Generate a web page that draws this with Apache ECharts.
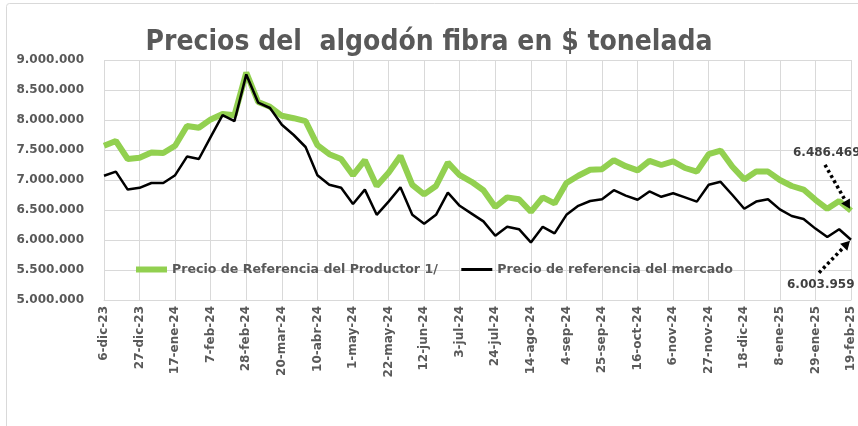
<!DOCTYPE html>
<html>
<head>
<meta charset="utf-8">
<script src="https://cdn.jsdelivr.net/npm/echarts@6/dist/echarts.min.js"></script>
<style>
html,body{margin:0;padding:0;background:#fff;}
#c{width:858px;height:426px;}
</style>
</head>
<body>
<div id="c"></div>
<script>
const categories = [
 '6-dic-23','13-dic-23','20-dic-23','27-dic-23','3-ene-24','10-ene-24','17-ene-24','24-ene-24','31-ene-24','7-feb-24',
 '14-feb-24','21-feb-24','28-feb-24','6-mar-24','13-mar-24','20-mar-24','27-mar-24','3-abr-24','10-abr-24','17-abr-24',
 '24-abr-24','1-may-24','8-may-24','15-may-24','22-may-24','29-may-24','5-jun-24','12-jun-24','19-jun-24','26-jun-24',
 '3-jul-24','10-jul-24','17-jul-24','24-jul-24','31-jul-24','7-ago-24','14-ago-24','21-ago-24','28-ago-24','4-sep-24',
 '11-sep-24','18-sep-24','25-sep-24','2-oct-24','9-oct-24','16-oct-24','23-oct-24','30-oct-24','6-nov-24','13-nov-24',
 '20-nov-24','27-nov-24','4-dic-24','11-dic-24','18-dic-24','25-dic-24','1-ene-25','8-ene-25','15-ene-25','22-ene-25',
 '29-ene-25','5-feb-25','12-feb-25','19-feb-25'
];
const productorValues = [
 7570000,7650000,7350000,7370000,7460000,7450000,7570000,7900000,7870000,8010000,
 8100000,8080000,8790000,8300000,8220000,8070000,8030000,7980000,7580000,7430000,
 7350000,7080000,7330000,6900000,7120000,7400000,6920000,6760000,6900000,7290000,
 7080000,6970000,6830000,6550000,6710000,6680000,6470000,6710000,6610000,6950000,
 7070000,7170000,7180000,7330000,7230000,7160000,7320000,7250000,7310000,7200000,
 7140000,7430000,7490000,7220000,7010000,7140000,7140000,7000000,6900000,6840000,
 6670000,6520000,6650000,6486469
];
const mercadoValues = [
 7070000,7140000,6840000,6870000,6950000,6950000,7080000,7390000,7350000,7720000,
 8080000,7980000,8760000,8290000,8200000,7920000,7750000,7550000,7080000,6920000,
 6870000,6600000,6840000,6420000,6640000,6880000,6420000,6270000,6420000,6790000,
 6570000,6440000,6310000,6070000,6220000,6180000,5960000,6220000,6110000,6420000,
 6570000,6650000,6680000,6830000,6740000,6670000,6810000,6720000,6780000,6710000,
 6640000,6920000,6970000,6750000,6520000,6640000,6680000,6510000,6400000,6350000,
 6190000,6050000,6180000,6003959
];
const seriesNames = ['Precio de Referencia del Productor 1/', 'Precio de referencia del mercado'];
const titleText = 'Precios del  algodón fibra en $ tonelada';
const yMin = 5000000, yMax = 9000000, yStep = 500000;

function fmt(v){ return String(Math.round(v)).replace(/\B(?=(\d{3})+(?!\d))/g,'.'); }

const chart = echarts.init(document.getElementById('c'), null, {renderer:'canvas'});
const labelFont = 'DejaVu Sans';
chart.setOption({
  animation:false,
  backgroundColor:'#fff',
  title:{
    text:titleText, left:'center', top:24,
    textStyle:{fontFamily:'"DejaVu Sans Condensed",sans-serif', fontWeight:'bold', fontSize:28, color:'#595959'}
  },
  grid:{left:104, right:7, top:60, bottom:126, containLabel:false},
  legend:{
    left:133, top:263, padding:0, itemWidth:31, itemHeight:10, itemGap:22,
    itemStyle:{opacity:0},
    textStyle:{fontFamily:labelFont, fontWeight:'bold', fontSize:12.6, color:'#595959'},
    data:[
      {name:seriesNames[0], itemStyle:{opacity:0}, lineStyle:{width:6, color:'#92D050'}},
      {name:seriesNames[1], itemStyle:{opacity:0}, lineStyle:{width:3, color:'#000000'}}
    ]
  },
  xAxis:{
    type:'category', data:categories, boundaryGap:false,
    axisLine:{show:true, lineStyle:{color:'#d9d9d9', width:1}},
    axisTick:{show:false},
    axisLabel:{interval:2, rotate:90, margin:6, fontFamily:labelFont, fontWeight:'bold', fontSize:12, color:'#595959'},
    splitLine:{show:true, interval:2, lineStyle:{color:'#d9d9d9', width:1}}
  },
  yAxis:{
    type:'value', min:yMin, max:yMax, interval:yStep,
    axisLine:{show:false}, axisTick:{show:false},
    axisLabel:{formatter:fmt, margin:20, fontFamily:labelFont, fontWeight:'bold', fontSize:12, color:'#595959'},
    splitLine:{show:true, lineStyle:{color:'#d9d9d9', width:1}}
  },
  series:[
    {name:seriesNames[0], type:'line', data:productorValues, symbol:'none', lineStyle:{color:'#92D050', width:6}, itemStyle:{color:'#92D050'}},
    {name:seriesNames[1], type:'line', data:mercadoValues, symbol:'none', lineStyle:{color:'#000000', width:2.5}, itemStyle:{color:'#000000'}}
  ]
});

// annotations anchored to last data points
const last = categories.length - 1;
const pG = chart.convertToPixel({gridIndex:0}, [last, productorValues[last]]);
const pB = chart.convertToPixel({gridIndex:0}, [last, mercadoValues[last]]);
function arrow(x1,y1,x2,y2){
  const ang = Math.atan2(y2-y1, x2-x1), L=9, W=5;
  const bx = x2 - L*Math.cos(ang), by = y2 - L*Math.sin(ang);
  const px = -Math.sin(ang), py = Math.cos(ang);
  return [
    {type:'line', shape:{x1:x1,y1:y1,x2:bx,y2:by}, style:{stroke:'#000', lineWidth:3.5, lineDash:[3,3]}, z:100},
    {type:'polygon', shape:{points:[[x2,y2],[bx+px*W,by+py*W],[bx-px*W,by-py*W]]}, style:{fill:'#000'}, z:100}
  ];
}
const annFont = 'bold 12px "DejaVu Sans"';
chart.setOption({
  graphic:[
    {type:'rect', shape:{x:6.5,y:3.5,width:900,height:500,r:3}, style:{fill:null, stroke:'#d9d9d9', lineWidth:1}, silent:true, z:-1},
    {type:'text', x:pG[0]-58, y:pG[1]-58, style:{text:fmt(productorValues[last]), font:annFont, fill:'#404040', textVerticalAlign:'middle'}, z:100},
    {type:'text', x:pB[0]-64, y:pB[1]+45, style:{text:fmt(mercadoValues[last]), font:annFont, fill:'#404040', textVerticalAlign:'middle'}, z:100}
  ].concat(arrow(pG[0]-26, pG[1]-46, pG[0]-1, pG[1]-2), arrow(pB[0]-32, pB[1]+33, pB[0]-1, pB[1]+1))
});
</script>
</body>
</html>
